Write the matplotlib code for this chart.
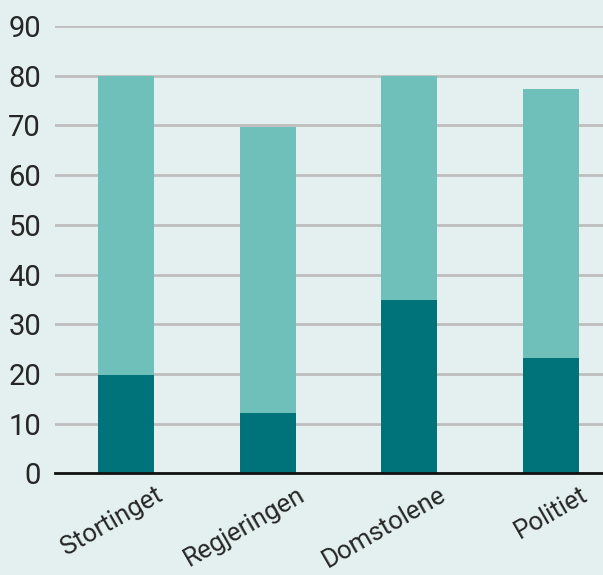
import matplotlib
matplotlib.use("Agg")
import matplotlib.pyplot as plt
import matplotlib.transforms as mtrans
import numpy as np

categories = ["Stortinget", "Regjeringen", "Domstolene", "Politiet"]
dark_values = [19.8, 12.1, 34.9, 23.2]
total_values = [80.0, 69.7, 80.0, 77.3]
light_values = [t - d for t, d in zip(total_values, dark_values)]
yticks = [0, 10, 20, 30, 40, 50, 60, 70, 80, 90]

BG = "#E3F0EF"
DARK = "#00737A"
LIGHT = "#6FBFBB"

plt.rcParams['font.family'] = ['Roboto', 'DejaVu Sans']

fig = plt.figure(figsize=(6.03, 5.75), dpi=100)
fig.patch.set_facecolor(BG)
ax = fig.add_axes([55/603, 1 - 473.3/575, 1 - 55/603, (473.3 - 26)/575])
ax.set_facecolor(BG)

x = np.arange(len(categories))
ax.bar(x, dark_values, width=0.394, color=DARK, zorder=3)
ax.bar(x, light_values, width=0.394, bottom=dark_values, color=LIGHT, zorder=3)

ax.set_xlim(-0.5, 3.366)
ax.set_ylim(0, 90)
ax.set_yticks(yticks)
ax.set_yticklabels([str(v) for v in yticks], fontsize=21, color="#262626")
ax.yaxis.grid(True, color="#BEBEBE", linewidth=2, zorder=0)
ax.set_axisbelow(True)
ax.tick_params(axis='y', length=0, pad=10)
ax.tick_params(axis='x', length=0, pad=4)

ax.set_xticks(x)
ax.set_xticklabels(categories, rotation=30, ha='right', rotation_mode='anchor',
                   fontsize=18.5, color="#262626")
offset = mtrans.ScaledTranslation(0.29, -0.04, fig.dpi_scale_trans)
for lbl in ax.get_xticklabels():
    lbl.set_transform(lbl.get_transform() + offset)

for s in ['top', 'right', 'left']:
    ax.spines[s].set_visible(False)
ax.spines['bottom'].set_color('#111111')
ax.spines['bottom'].set_linewidth(2)
ax.spines['bottom'].set_zorder(4)

fig.savefig("out.png", dpi=100, facecolor=BG)
